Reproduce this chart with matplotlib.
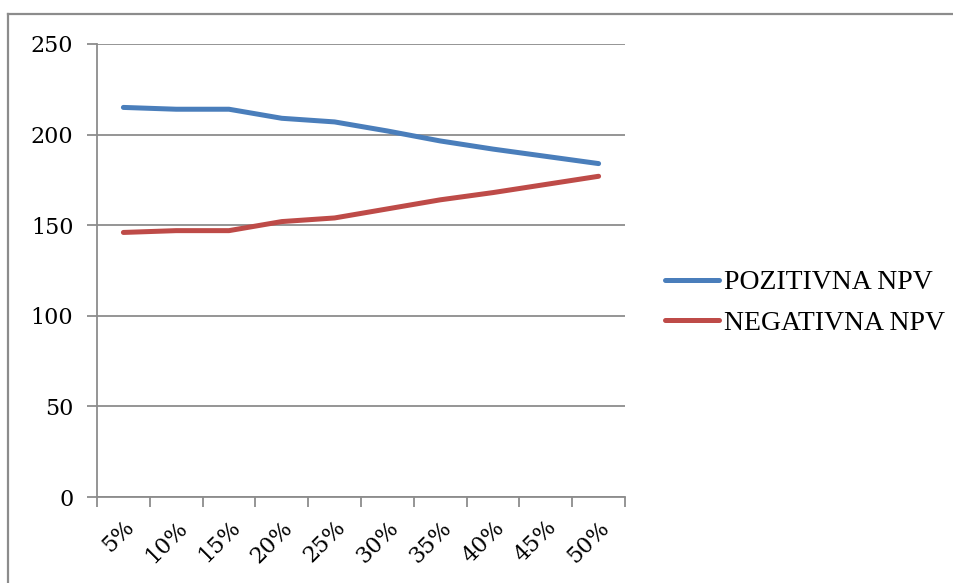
import numpy as np
import matplotlib.pyplot as plt
from matplotlib.lines import Line2D

# stope diskonta i broj projekata s pozitivnom / negativnom NPV
stope = ['5%', '10%', '15%', '20%', '25%', '30%', '35%', '40%', '45%', '50%']
pozitivna = [215, 214, 214, 209, 207, 202, 196.5, 192, 188, 184]
negativna = [146, 147, 147, 152, 154, 159, 164, 168, 172.5, 177]

BLUE = '#4a7ebb'
RED = '#be4b48'
GRID = '#8c8c8c'

fig = plt.figure(figsize=(9.54, 5.83), dpi=100)
ax = fig.add_axes([97 / 954, 1 - 497 / 583, 528 / 954, 453 / 583])

x = np.arange(len(stope))
ax.plot(x, pozitivna, color=BLUE, lw=3.6, solid_capstyle='round', label='POZITIVNA NPV')
ax.plot(x, negativna, color=RED, lw=3.6, solid_capstyle='round', label='NEGATIVNA NPV')

ax.set_xlim(-0.5, len(stope) - 0.5)
ax.set_ylim(0, 250)
ax.set_yticks(range(0, 251, 50))
ax.yaxis.grid(True, color=GRID, lw=1.3)
ax.set_axisbelow(True)

# crtice na granicama kategorija, oznake u sredini
ax.set_xticks(np.arange(-0.5, len(stope), 1.0))
ax.set_xticklabels([])
ax.set_xticks(x, minor=True)
ax.set_xticklabels(stope, minor=True, rotation=45, ha='right', va='top',
                   rotation_mode='anchor', fontsize=16, family='DejaVu Serif')
ax.tick_params(axis='x', which='major', length=7, width=1.3, color=GRID, direction='out')
ax.tick_params(axis='x', which='minor', length=0, pad=14)
ax.tick_params(axis='y', length=7, width=1.3, color=GRID, pad=10)
for lab in ax.get_yticklabels():
    lab.set_family('DejaVu Serif')
    lab.set_fontsize(16)

for side in ['top', 'right']:
    ax.spines[side].set_visible(False)
for side in ['left', 'bottom']:
    ax.spines[side].set_color(GRID)
    ax.spines[side].set_linewidth(1.3)

ax.legend(loc='center left', bbox_to_anchor=(665 / 954, 1 - 303 / 583),
          bbox_transform=fig.transFigure, frameon=False,
          borderpad=0, borderaxespad=0,
          prop={'family': 'Liberation Serif', 'size': 20},
          handlelength=1.95, handletextpad=0.18, labelspacing=0.55)

# okvir grafikona
x0, y0 = 8 / 954, 1 - 14 / 583
fig.add_artist(Line2D([x0, 1.01], [y0, y0], color=GRID, lw=1.6, transform=fig.transFigure))
fig.add_artist(Line2D([x0, x0], [y0, -0.01], color=GRID, lw=1.6, transform=fig.transFigure))

fig.savefig('out.png', dpi=100)
